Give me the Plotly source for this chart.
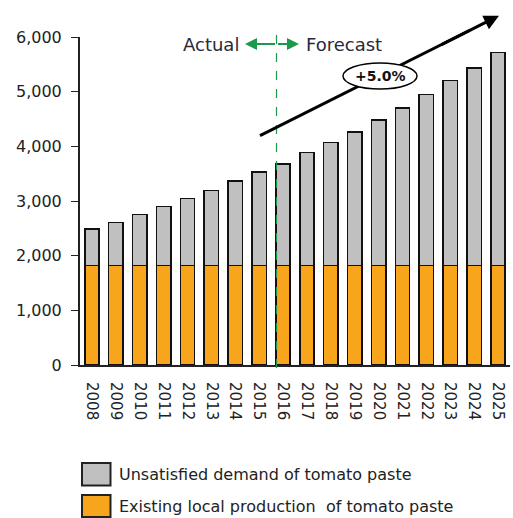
import plotly.graph_objects as go

years = [str(y) for y in range(2008, 2026)]
local_production = [1820] * 18
total_demand = [2488, 2603, 2756, 2902, 3043, 3189, 3366, 3530, 3677, 3890,
                4073, 4262, 4481, 4701, 4951, 5208, 5433, 5720]
unsatisfied = [t - p for t, p in zip(total_demand, local_production)]
y_ticks = [0, 1000, 2000, 3000, 4000, 5000, 6000]
names = ["Unsatisfied demand of tomato paste", "Existing local production  of tomato paste"]
growth_label = "+5.0%"

GRAY = "#c0c0c0"
ORANGE = "#f7a51c"
FONT = "DejaVu Sans"

fig = go.Figure()
fig.add_trace(go.Bar(x=years, y=local_production, name=names[1], marker=dict(color=ORANGE, line=dict(color="#111", width=1.5)), width=0.6))
fig.add_trace(go.Bar(x=years, y=unsatisfied, name=names[0], marker=dict(color=GRAY, line=dict(color="#111", width=1.5)), width=0.6))

L, R, T, B = 80, 3, 37, 153
W, H = 513, 518
pw, ph = W - L - R, H - T - B

def px(x):
    return (x - L) / pw

def py(y):
    return (H - B - y) / ph

shapes = []
# dashed divider
shapes.append(dict(type="line", xref="paper", yref="paper", x0=px(276.5), x1=px(276.5), y0=py(368), y1=py(26),
                   line=dict(color="#1a9a4a", width=1.2, dash="dash")))
# trend line (tail part)
x_t, y_t, x_h, y_h = 260, 135.7, 499, 15.7
x_m = 440
x_e = 470
y_m = y_t + (x_m - x_t) * (y_h - y_t) / (x_h - x_t)
y_e = y_t + (x_e - x_t) * (y_h - y_t) / (x_h - x_t)
shapes.append(dict(type="line", xref="paper", yref="paper", x0=px(x_t), y0=py(y_t), x1=px(x_e), y1=py(y_e),
                   line=dict(color="black", width=3)))
# ellipse
shapes.append(dict(type="circle", xref="paper", yref="paper", x0=px(343), x1=px(417), y0=py(89), y1=py(63),
                   fillcolor="white", line=dict(color="black", width=1.5)))
# legend boxes
shapes.append(dict(type="rect", xref="paper", yref="paper", x0=px(82), x1=px(110.5), y0=py(485.5), y1=py(463),
                   fillcolor=GRAY, line=dict(color="#222", width=2)))
shapes.append(dict(type="rect", xref="paper", yref="paper", x0=px(82), x1=px(110.5), y0=py(517), y1=py(495),
                   fillcolor=ORANGE, line=dict(color="#222", width=2)))

annotations = []
annotations.append(dict(xref="paper", yref="paper", x=px(x_h), y=py(y_h), ax=x_m - x_h, ay=y_m - y_h,
                        showarrow=True, arrowhead=2, arrowsize=1, arrowwidth=3, arrowcolor="black", text=""))
# green arrows
for tip in (245, 299):
    annotations.append(dict(xref="paper", yref="paper", x=px(tip), y=py(44), ax=276.5 - tip, ay=0,
                            showarrow=True, arrowhead=2, arrowsize=1.2, arrowwidth=2, arrowcolor="#1a9a4a", text=""))
annotations.append(dict(xref="paper", yref="paper", x=px(241), y=py(44), xanchor="right", yanchor="middle",
                        text="Actual", showarrow=False, font=dict(family=FONT, size=18, color="#2a2a3a")))
annotations.append(dict(xref="paper", yref="paper", x=px(304), y=py(44), xanchor="left", yanchor="middle",
                        text="Forecast", showarrow=False, font=dict(family=FONT, size=18, color="#2a2a3a")))
annotations.append(dict(xref="paper", yref="paper", x=px(380), y=py(76), xanchor="center", yanchor="middle",
                        text="<b>" + growth_label + "</b>", showarrow=False, font=dict(family=FONT, size=14, color="#111")))
annotations.append(dict(xref="paper", yref="paper", x=px(117), y=py(474), xanchor="left", yanchor="middle",
                        text=names[0], showarrow=False, font=dict(family=FONT, size=16, color="#222")))
annotations.append(dict(xref="paper", yref="paper", x=px(117), y=py(506), xanchor="left", yanchor="middle",
                        text=names[1], showarrow=False, font=dict(family=FONT, size=16, color="#222")))

fig.update_layout(
    width=W, height=H, barmode="stack", showlegend=False,
    margin=dict(l=L, r=R, t=T, b=B, pad=0),
    plot_bgcolor="white", paper_bgcolor="white",
    shapes=shapes, annotations=annotations,
    xaxis=dict(type="category", tickangle=90, showline=True, linecolor="#222", linewidth=2,
               ticks="", ticklabelstandoff=12, tickfont=dict(family=FONT, size=15, color="#222"), showgrid=False),
    yaxis=dict(range=[0, 6000], tickvals=y_ticks, tickformat=",", showline=True, linecolor="#222", linewidth=2,
               ticks="outside", ticklen=7, tickcolor="#222", showgrid=False, zeroline=False,
               ticklabelstandoff=6,
               tickfont=dict(family=FONT, size=16, color="#222")),
    bargap=0.4,
)

fig.write_html("out.html")
